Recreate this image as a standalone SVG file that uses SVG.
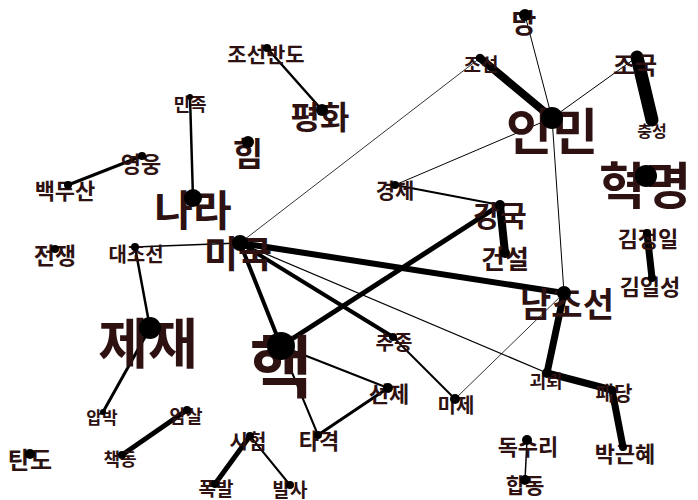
<svg xmlns="http://www.w3.org/2000/svg" width="698" height="500" viewBox="0 0 698 500">
<style>
text{font-family:"Noto Sans CJK KR","Noto Sans",sans-serif;font-weight:700;fill:#2e1212;text-anchor:middle;dominant-baseline:central}
.e line{stroke:#000;stroke-linecap:round}
circle{fill:#000}
</style>
<rect width="698" height="500" fill="#fff"/>
<g class="e" id="edges">
<line x1="525" y1="15" x2="552" y2="118" stroke-width="1"/>
<line x1="480" y1="58" x2="552" y2="118" stroke-width="8"/>
<line x1="637" y1="57" x2="552" y2="118" stroke-width="1"/>
<line x1="637" y1="57" x2="652" y2="120" stroke-width="13"/>
<line x1="480" y1="58" x2="240" y2="243" stroke-width="0.8"/>
<line x1="552" y1="118" x2="395" y2="185" stroke-width="1"/>
<line x1="552" y1="118" x2="564" y2="293" stroke-width="1"/>
<line x1="395" y1="185" x2="500" y2="205" stroke-width="2"/>
<line x1="500" y1="205" x2="505" y2="253" stroke-width="8"/>
<line x1="500" y1="205" x2="281" y2="346" stroke-width="5"/>
<line x1="240" y1="243" x2="564" y2="293" stroke-width="6"/>
<line x1="240" y1="243" x2="281" y2="346" stroke-width="4"/>
<line x1="240" y1="243" x2="393" y2="337" stroke-width="4"/>
<line x1="240" y1="243" x2="547" y2="373" stroke-width="1.2"/>
<line x1="240" y1="243" x2="135" y2="247" stroke-width="1.5"/>
<line x1="135" y1="247" x2="150" y2="328" stroke-width="2.5"/>
<line x1="193" y1="198" x2="190" y2="97" stroke-width="2.5"/>
<line x1="267" y1="48" x2="322" y2="110" stroke-width="2.5"/>
<line x1="142" y1="156" x2="68" y2="185" stroke-width="3"/>
<line x1="150" y1="328" x2="103" y2="412" stroke-width="3"/>
<line x1="187" y1="410" x2="122" y2="455" stroke-width="5"/>
<line x1="281" y1="346" x2="388" y2="388" stroke-width="2"/>
<line x1="281" y1="346" x2="318" y2="435" stroke-width="2"/>
<line x1="388" y1="388" x2="318" y2="435" stroke-width="3"/>
<line x1="393" y1="337" x2="455" y2="399" stroke-width="2"/>
<line x1="455" y1="399" x2="564" y2="293" stroke-width="0.8"/>
<line x1="564" y1="293" x2="547" y2="373" stroke-width="7"/>
<line x1="547" y1="373" x2="612" y2="390" stroke-width="7"/>
<line x1="612" y1="390" x2="623" y2="447" stroke-width="7"/>
<line x1="527" y1="440" x2="525" y2="480" stroke-width="1.5"/>
<line x1="250" y1="436" x2="215" y2="484" stroke-width="5"/>
<line x1="250" y1="436" x2="290" y2="485" stroke-width="2"/>
<line x1="647" y1="233" x2="652" y2="278" stroke-width="7"/>
</g>
<g id="n-mang"><text x="524" y="21" font-size="27">망</text><circle cx="525" cy="15" r="6"/></g>
<g id="n-joseon"><text x="481" y="63" font-size="19">조선</text><circle cx="480" cy="58" r="4"/></g>
<g id="n-jogguk"><text x="635" y="63" font-size="24">조국</text><circle cx="637" cy="57" r="5"/></g>
<g id="n-inmin"><text x="552" y="128" font-size="50">인민</text><circle cx="552" cy="118" r="11"/></g>
<g id="n-chungseong"><text x="652" y="130" font-size="16">충성</text><circle cx="652" cy="120" r="5"/></g>
<g id="n-hyeokmyeong"><text x="645" y="182" font-size="50">혁명</text><circle cx="646" cy="176" r="11"/></g>
<g id="n-kimjongil"><text x="648" y="237" font-size="22">김정일</text><circle cx="647" cy="233" r="4"/></g>
<g id="n-kimilsung"><text x="650" y="285" font-size="22">김일성</text><circle cx="652" cy="278" r="4"/></g>
<g id="n-gyeongje"><text x="395" y="189" font-size="21">경제</text><circle cx="395" cy="185" r="4"/></g>
<g id="n-gangguk"><text x="500" y="214" font-size="29">강국</text><circle cx="500" cy="205" r="5"/></g>
<g id="n-geonseol"><text x="505" y="257" font-size="26">건설</text><circle cx="505" cy="253" r="5"/></g>
<g id="n-namjoseon"><text x="567" y="302" font-size="34">남조선</text><circle cx="564" cy="293" r="7"/></g>
<g id="n-nara"><text x="193" y="207" font-size="42">나라</text><circle cx="193" cy="198" r="9"/></g>
<g id="n-minjok"><text x="190" y="103" font-size="18">민족</text><circle cx="190" cy="97" r="3"/></g>
<g id="n-joseonbando"><text x="266" y="53" font-size="21">조선반도</text><circle cx="267" cy="48" r="4"/></g>
<g id="n-pyeonghwa"><text x="320" y="115" font-size="32">평화</text><circle cx="322" cy="110" r="6"/></g>
<g id="n-him"><text x="248" y="152" font-size="33">힘</text><circle cx="248" cy="142" r="6"/></g>
<g id="n-yeongung"><text x="141" y="162" font-size="22">영웅</text><circle cx="142" cy="156" r="4"/></g>
<g id="n-baekdusan"><text x="65" y="189" font-size="22">백두산</text><circle cx="68" cy="185" r="4"/></g>
<g id="n-jeonjaeng"><text x="55" y="254" font-size="23">전쟁</text><circle cx="55" cy="249" r="4"/></g>
<g id="n-daejoseon"><text x="136" y="253" font-size="20">대조선</text><circle cx="135" cy="247" r="4"/></g>
<g id="n-miguk"><text x="238" y="252" font-size="37">미국</text><circle cx="240" cy="243" r="8"/></g>
<g id="n-jejae"><text x="148" y="340" font-size="54">제재</text><circle cx="150" cy="328" r="11"/></g>
<g id="n-haek"><text x="281" y="362" font-size="68">핵</text><circle cx="281" cy="346" r="14"/></g>
<g id="n-chujong"><text x="394" y="341" font-size="20">추종</text><circle cx="393" cy="337" r="4"/></g>
<g id="n-seonje"><text x="389" y="392" font-size="22">선제</text><circle cx="388" cy="388" r="5"/></g>
<g id="n-mije"><text x="456" y="404" font-size="20">미제</text><circle cx="455" cy="399" r="5"/></g>
<g id="n-goeroe"><text x="546" y="380" font-size="18">괴뢰</text><circle cx="547" cy="373" r="5"/></g>
<g id="n-paedang"><text x="614" y="392" font-size="20">패당</text><circle cx="612" cy="390" r="4"/></g>
<g id="n-parkgeunhye"><text x="625" y="452" font-size="22">박근혜</text><circle cx="623" cy="447" r="4"/></g>
<g id="n-doksuri"><text x="528" y="445" font-size="22">독수리</text><circle cx="527" cy="440" r="5"/></g>
<g id="n-hapdong"><text x="525" y="484" font-size="21">합동</text><circle cx="525" cy="480" r="5"/></g>
<g id="n-apbak"><text x="102" y="416" font-size="17">압박</text><circle cx="103" cy="412" r="3"/></g>
<g id="n-amsal"><text x="186" y="415" font-size="18">암살</text><circle cx="187" cy="410" r="4"/></g>
<g id="n-chaekdong"><text x="120" y="458" font-size="18">책동</text><circle cx="122" cy="455" r="4"/></g>
<g id="n-tando"><text x="30" y="458" font-size="24">탄도</text><circle cx="30" cy="454" r="5"/></g>
<g id="n-siheom"><text x="248" y="440" font-size="20">시험</text><circle cx="250" cy="436" r="4"/></g>
<g id="n-pokbal"><text x="216" y="487" font-size="19">폭발</text><circle cx="215" cy="484" r="4"/></g>
<g id="n-balsa"><text x="290" y="488" font-size="19">발사</text><circle cx="290" cy="485" r="4"/></g>
<g id="n-tagyeok"><text x="319" y="439" font-size="22">타격</text><circle cx="318" cy="435" r="4"/></g>
</svg>
